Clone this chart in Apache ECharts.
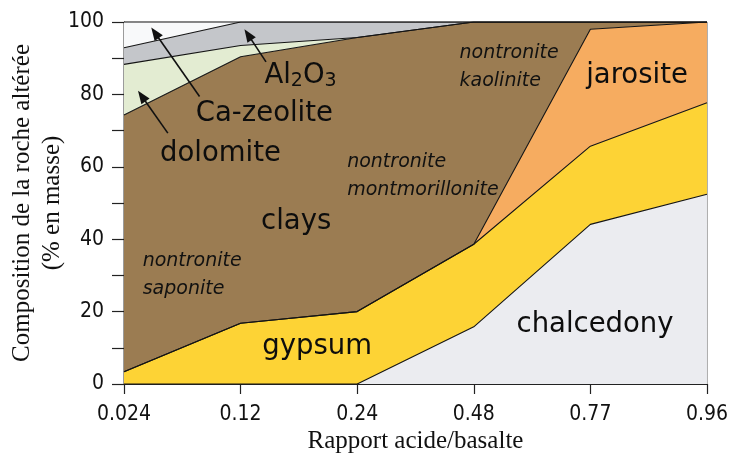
<!DOCTYPE html>
<html>
<head>
<meta charset="utf-8">
<script src="https://cdn.jsdelivr.net/npm/echarts@6/dist/echarts.min.js"></script>
<style>
  html, body { margin: 0; padding: 0; background: #ffffff; }
  #chart { width: 731px; height: 460px; }
</style>
</head>
<body>
<div id="chart"></div>
<script>
// Acid/basalt ratio (x categories)
const ratios = ['0.024', '0.12', '0.24', '0.48', '0.77', '0.96'];

// Mass % of each phase, stacked from the bottom up
const chalcedony = [0, 0, 0, 15.8, 44.1, 52.4];
const gypsum     = [3.4, 16.8, 20.0, 22.8, 21.6, 25.3];
const jarosite   = [0, 0, 0, 0, 32.3, 22.3];
const clays      = [70.9, 73.6, 75.7, 61.4, 2.0, 0];
const dolomite   = [14.0, 3.1, 0, 0, 0, 0];
const al2o3      = [4.6, 6.5, 4.3, 0, 0, 0];
const caZeolite  = [7.1, 0, 0, 0, 0, 0];

// Y axis ticks (labelled every 20, minor ticks every 10)
const yMin = 0, yMax = 100, yStep = 10, yLabelStep = 20;

const layers = [
  { name: 'chalcedony', values: chalcedony, color: '#ebecf0' },
  { name: 'gypsum',     values: gypsum,     color: '#fdd335' },
  { name: 'jarosite',   values: jarosite,   color: '#f6ac60' },
  { name: 'clays',      values: clays,      color: '#9b7c52' },
  { name: 'dolomite',   values: dolomite,   color: '#e3ecd2' },
  { name: 'Al2O3',      values: al2o3,      color: '#c4c6ca' },
  { name: 'Ca-zeolite', values: caZeolite,  color: '#f8f9fa' }
];

const tickFont = '"DejaVu Sans Condensed", "DejaVu Sans", sans-serif';
const labelFont = '"DejaVu Sans", Verdana, sans-serif';
const serifFont = '"Liberation Serif", "Times New Roman", serif';

// Filled bands (no outline), then the outlines stacked separately on top
const areaSeries = layers.map(l => ({
  name: l.name,
  type: 'line',
  stack: 'bands',
  data: l.values.slice(),
  symbol: 'none',
  lineStyle: { width: 0 },
  areaStyle: { color: l.color, opacity: 1 },
  silent: true,
  z: 2
}));
const edgeSeries = layers.map(l => ({
  name: l.name + '-edge',
  type: 'line',
  stack: 'edges',
  data: l.values.slice(),
  symbol: 'none',
  lineStyle: { color: '#141414', width: 1.1 },
  silent: true,
  z: 3
}));

const chart = echarts.init(document.getElementById('chart'), null, { renderer: 'canvas' });

chart.setOption({
  animation: false,
  backgroundColor: '#ffffff',
  grid: {
    left: 124, right: 22, top: 22, bottom: 76,
    show: true, borderColor: '#555', borderWidth: 1, backgroundColor: 'transparent'
  },
  xAxis: {
    type: 'category',
    data: ratios,
    boundaryGap: false,
    axisLine: { show: true, lineStyle: { color: '#222', width: 1.2 } },
    axisTick: { show: true, inside: false, length: 10, interval: 0, lineStyle: { color: '#222', width: 1.2 } },
    axisLabel: { margin: 20, fontFamily: tickFont, fontSize: 21, color: '#111', interval: 0 },
    splitLine: { show: false }
  },
  yAxis: {
    type: 'value',
    min: yMin, max: yMax, interval: yStep,
    axisLine: { show: true, lineStyle: { color: '#222', width: 1.2 } },
    axisTick: { show: true, inside: false, length: 12, lineStyle: { color: '#222', width: 1.2 } },
    axisLabel: {
      margin: 20, fontFamily: tickFont, fontSize: 21, color: '#111',
      formatter: v => (v % yLabelStep === 0 ? String(v) : '')
    },
    splitLine: { show: false }
  },
  series: areaSeries.concat(edgeSeries)
});

// Map [fractional category index, y %] to pixels, using the axes' own end points
const c0 = chart.convertToPixel({ gridIndex: 0 }, [0, yMin]);
const c1 = chart.convertToPixel({ gridIndex: 0 }, [ratios.length - 1, yMax]);
const px = (x, y) => [
  c0[0] + (c1[0] - c0[0]) * x / (ratios.length - 1),
  c0[1] + (c1[1] - c0[1]) * (y - yMin) / (yMax - yMin)
];

const bigLabels = [
  { text: 'jarosite',   at: [4.40, 82.6] },
  { text: 'chalcedony', at: [4.04, 13.8] },
  { text: 'gypsum',     at: [1.657, 7.5] },
  { text: 'clays',      at: [1.477, 42.0] },
  { text: 'dolomite',   at: [0.827, 61.0] },
  { text: 'Ca-zeolite', at: [1.204, 72.1] }
];
const italicLabels = [
  { lines: ['nontronite', 'saponite'],        at: [0.16, 32.0] },
  { lines: ['nontronite', 'kaolinite'],       at: [2.878, 89.5] },
  { lines: ['nontronite', 'montmorillonite'], at: [1.914, 59.4] }
];
const arrows = [
  { from: [0.648, 79.4], to: [0.234, 98.5] },  // Ca-zeolite
  { from: [1.218, 89.0], to: [1.033, 98.0] },  // Al2O3
  { from: [0.376, 69.3], to: [0.120, 81.0] }   // dolomite
];
const al2o3Anchor = [1.204, 82.6];

const big = 27.5, small = 19, itLine = 28;
const graphics = [];

bigLabels.forEach(l => {
  const p = px(l.at[0], l.at[1]);
  graphics.push({
    type: 'text', x: p[0], y: p[1] - 0.35 * big, z: 10, silent: true,
    style: { text: l.text, font: big + 'px ' + labelFont, fill: '#0d0d0d', align: 'center', verticalAlign: 'middle' }
  });
});

italicLabels.forEach(l => {
  const p = px(l.at[0], l.at[1]);
  l.lines.forEach((t, i) => {
    graphics.push({
      type: 'text', x: p[0], y: p[1] - 0.35 * small + i * itLine, z: 10, silent: true,
      style: { text: t, font: 'italic ' + small + 'px ' + labelFont, fill: '#111', align: 'left', verticalAlign: 'middle' }
    });
  });
});

// Al2O3 with subscripts
(function () {
  const p = px(al2o3Anchor[0], al2o3Anchor[1]);
  const mainFont = big + 'px ' + labelFont;
  const subFont = '19px ' + labelFont;
  const ctx = document.createElement('canvas').getContext('2d');
  const w = (t, f) => { ctx.font = f; return ctx.measureText(t).width; };
  const parts = [
    { t: 'Al', f: mainFont, dy: 0, sz: big },
    { t: '2',  f: subFont,  dy: 3, sz: 19 },
    { t: 'O',  f: mainFont, dy: 0, sz: big },
    { t: '3',  f: subFont,  dy: 3, sz: 19 }
  ];
  let x = p[0];
  parts.forEach(pt => {
    graphics.push({
      type: 'text', x: x, y: p[1] + pt.dy - 0.35 * pt.sz, z: 10, silent: true,
      style: { text: pt.t, font: pt.f, fill: '#0d0d0d', align: 'left', verticalAlign: 'middle' }
    });
    x += w(pt.t, pt.f);
  });
})();

arrows.forEach(a => {
  const s = px(a.from[0], a.from[1]);
  const e = px(a.to[0], a.to[1]);
  const dx = e[0] - s[0], dy = e[1] - s[1];
  const len = Math.hypot(dx, dy);
  const ux = dx / len, uy = dy / len;
  const headLen = 13, headHalf = 5;
  const bx = e[0] - ux * headLen, by = e[1] - uy * headLen;
  graphics.push({
    type: 'line', z: 11, silent: true,
    shape: { x1: s[0], y1: s[1], x2: bx + ux * 2, y2: by + uy * 2 },
    style: { stroke: '#111', lineWidth: 1.6 }
  });
  graphics.push({
    type: 'polygon', z: 11, silent: true,
    shape: { points: [[e[0], e[1]], [bx - uy * headHalf, by + ux * headHalf], [bx + uy * headHalf, by - ux * headHalf]] },
    style: { fill: '#111' }
  });
});

// Axis titles
graphics.push({
  type: 'text', x: (c0[0] + c1[0]) / 2, y: 441, z: 10, silent: true,
  style: { text: 'Rapport acide/basalte', font: '25px ' + serifFont, fill: '#111', align: 'center', verticalAlign: 'middle' }
});
graphics.push({
  type: 'text', x: 37, y: (c0[1] + c1[1]) / 2, rotation: Math.PI / 2, z: 10, silent: true,
  style: {
    text: 'Composition de la roche altérée\n(% en masse)', font: '25px ' + serifFont,
    fill: '#111', align: 'center', verticalAlign: 'middle', lineHeight: 30
  }
});

chart.setOption({ graphic: graphics });
</script>
</body>
</html>
